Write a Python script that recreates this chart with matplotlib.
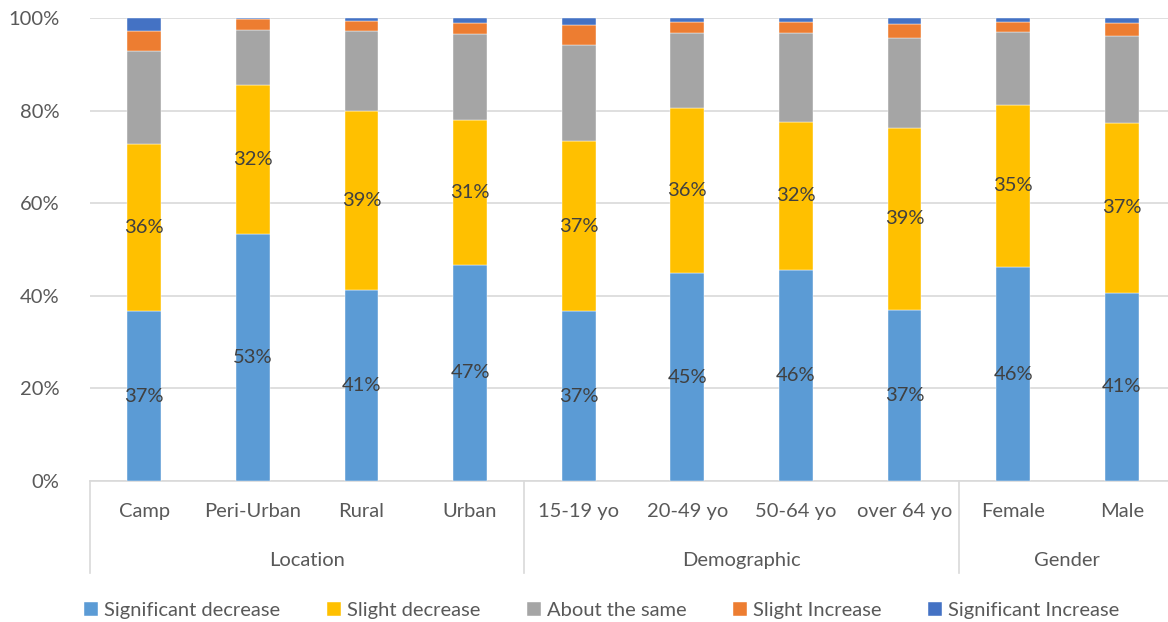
import matplotlib
matplotlib.use("Agg")
import matplotlib.pyplot as plt
import numpy as np

# categories and groups
cats = ['Camp', 'Peri-Urban', 'Rural', 'Urban',
        '15-19 yo', '20-49 yo', '50-64 yo', 'over 64 yo',
        'Female', 'Male']
groups = ['Location', 'Demographic', 'Gender']
group_sizes = [4, 4, 2]

# shares in %
sig_dec = [36.7, 53.4, 41.3, 46.7, 36.7, 44.9, 45.6, 36.9, 46.2, 40.7]
slight_dec = [36.0, 32.2, 38.6, 31.3, 36.7, 35.7, 32.0, 39.4, 35.1, 36.6]
same = [20.1, 11.8, 17.4, 18.6, 20.8, 16.2, 19.2, 19.4, 15.7, 18.9]
slight_inc = [4.5, 2.3, 2.0, 2.3, 4.3, 2.3, 2.3, 2.9, 2.2, 2.8]
sig_inc = [2.7, 0.3, 0.7, 1.1, 1.5, 0.9, 0.9, 1.4, 0.8, 1.0]

series = [('Significant decrease', sig_dec, '#5B9BD5', True),
          ('Slight decrease', slight_dec, '#FFC000', True),
          ('About the same', same, '#A5A5A5', False),
          ('Slight Increase', slight_inc, '#ED7D31', False),
          ('Significant Increase', sig_inc, '#4472C4', False)]

plt.rcParams['font.family'] = ['Lato', 'DejaVu Sans']
txt = '#595959'
fs = 14.5

fig = plt.figure(figsize=(11.68, 6.22), dpi=100)
ax = fig.add_axes([90/1168, 141/622, 1086/1168, 463/622])

x = np.arange(len(cats))
bottom = np.zeros(len(cats))
for name, vals, col, lab in series:
    vals = np.array(vals)
    ax.bar(x, vals, 0.31, bottom=bottom, color=col, label=name,
           edgecolor='white', linewidth=0.3, zorder=3)
    if lab:
        for xi, b, v in zip(x, bottom, vals):
            ax.text(xi, b + v / 2, '%d%%' % round(v), ha='center', va='center',
                    fontsize=fs, color='#404040', zorder=4)
    bottom += vals

ax.set_xlim(-0.5, len(cats) - 0.5)
ax.set_ylim(0, 100)
ax.set_yticks(range(0, 101, 20))
ax.set_yticklabels(['%d%%' % t for t in range(0, 101, 20)])
ax.tick_params(axis='y', length=0, labelsize=fs, labelcolor=txt, pad=22)
ax.yaxis.grid(True, color='#D9D9D9', linewidth=1.2, zorder=0)
for s in ['top', 'right', 'left']:
    ax.spines[s].set_visible(False)
ax.spines['bottom'].set_color('#D9D9D9')
ax.spines['bottom'].set_linewidth(1.2)

ax.set_xticks(x)
ax.set_xticklabels(cats)
ax.tick_params(axis='x', length=0, labelsize=fs, labelcolor=txt, pad=16)

# group labels and separators
trans = ax.get_xaxis_transform()
start = 0
edges = [-0.5]
for g, n in zip(groups, group_sizes):
    ax.text(start + (n - 1) / 2, -0.171, g, transform=trans, ha='center',
            va='center', fontsize=fs, color=txt)
    start += n
    edges.append(start - 0.5)
for e in edges:
    ax.plot([e, e], [0, -0.199], transform=trans, color='#D9D9D9',
            linewidth=1.2, clip_on=False)

fig.legend(loc='lower center', bbox_to_anchor=(0.515, -0.025), ncol=5,
           frameon=False, fontsize=fs, handlelength=0.7, handleheight=0.7,
           handletextpad=0.3, columnspacing=2.3, labelcolor=txt)

fig.savefig('out.png', dpi=100)
